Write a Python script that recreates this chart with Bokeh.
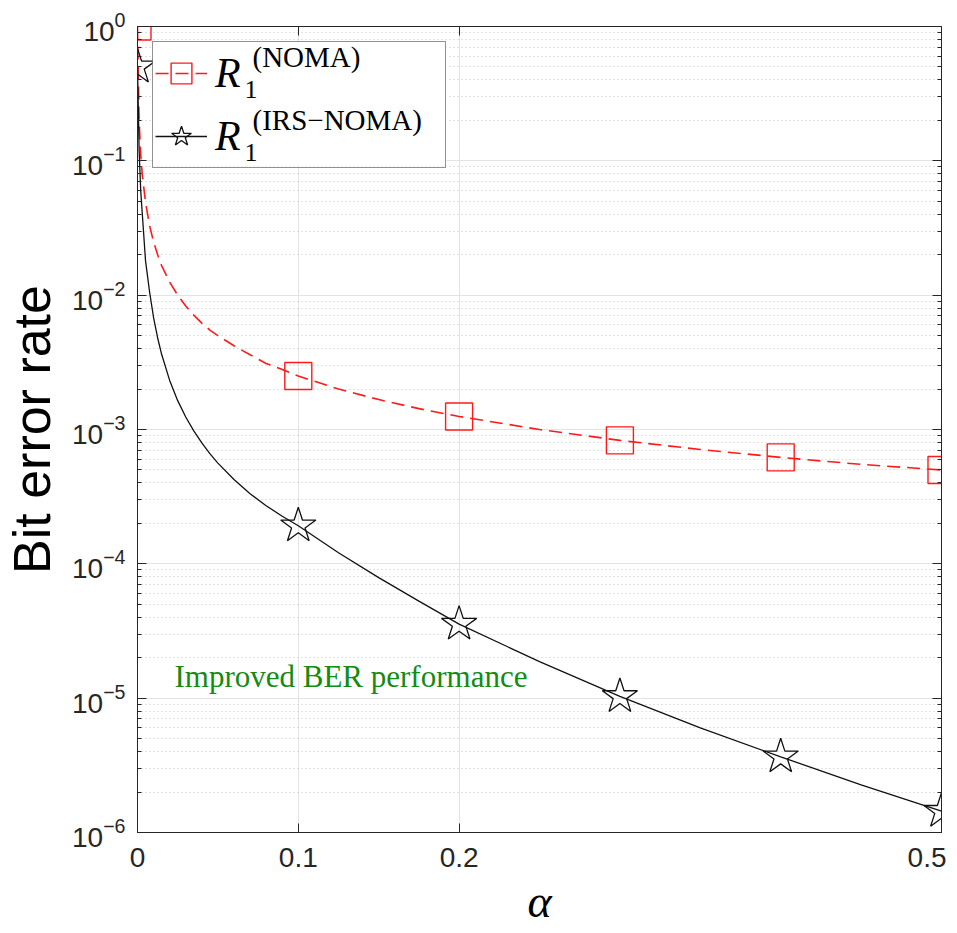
from bokeh.plotting import figure
from bokeh.models import (FixedTicker, LogAxis, LinearAxis, Legend, LegendItem, Label,
                          BoxAnnotation)
from bokeh.embed import file_html
from bokeh.resources import INLINE

# ---------------- data ----------------
alpha = [0, 0.001, 0.002, 0.003, 0.005, 0.0075, 0.01, 0.0125, 0.015, 0.02, 0.025,
         0.03, 0.035, 0.04, 0.045, 0.05, 0.06, 0.07, 0.08, 0.09, 0.1, 0.125, 0.15,
         0.175, 0.2, 0.25, 0.3, 0.35, 0.4, 0.45, 0.5]
ber_noma = [1.0, 0.2, 0.11, 0.078, 0.049, 0.033, 0.025, 0.02, 0.0166, 0.0125, 0.01,
            0.0083, 0.0071, 0.0062, 0.0055, 0.005, 0.0042, 0.0036, 0.0031, 0.0028,
            0.0025, 0.002, 0.00167, 0.00143, 0.00125, 0.001, 0.00083, 0.00071,
            0.00062, 0.00055, 0.0005]
ber_irs_noma = [0.5, 0.12, 0.06, 0.04, 0.018, 0.0106, 0.0068, 0.00482, 0.00363,
                0.00232, 0.00164, 0.00124, 0.000977, 0.000794, 0.000661, 0.000562,
                0.000424, 0.000333, 0.000271, 0.000226, 0.000192, 0.000121, 7.9e-05,
                5.28e-05, 3.56e-05, 1.87e-05, 1.03e-05, 6.0e-06, 3.66e-06, 2.26e-06,
                1.44e-06]
alpha_markers = [0, 0.1, 0.2, 0.3, 0.4, 0.5]
noma_markers = [ber_noma[alpha.index(a)] for a in alpha_markers]
irs_markers = [ber_irs_noma[alpha.index(a)] for a in alpha_markers]

x_ticks = [0, 0.1, 0.2, 0.5]
x_tick_labels = ["0", "0.1", "0.2", "0.5"]
y_ticks = [1e-6, 1e-5, 1e-4, 1e-3, 1e-2, 1e-1, 1.0]
y_minor = [k * d for d in y_ticks[:-1] for k in range(2, 10)]

x_label = "α"
y_label = "Bit error rate"
note_text = "Improved BER performance"
legend_main = "R"
legend_sub = "1"
legend_sups = ["(NOMA)", "(IRS−NOMA)"]

AX = "#262626"

p = figure(frame_width=804, frame_height=806, x_range=(0, 0.5), y_range=(1e-6, 1),
           y_axis_type="log", output_backend="svg", toolbar_location=None,
           min_border_left=100, min_border_right=5, min_border_top=26,
           min_border_bottom=85, background_fill_color="white",
           border_fill_color="white")
p.outline_line_color = AX
p.outline_line_width = 1

yticker = FixedTicker(ticks=y_ticks, minor_ticks=y_minor)
xticker = FixedTicker(ticks=x_ticks, minor_ticks=[])

# grids
p.xgrid.ticker = xticker
p.ygrid.ticker = yticker
p.xgrid.grid_line_color = "#e3e3e3"
p.ygrid.grid_line_color = "#e3e3e3"
p.ygrid.minor_grid_line_color = "#c4c4c4"
p.ygrid.minor_grid_line_dash = "1 3"
p.ygrid.minor_grid_line_width = 1

# left axis
yax = p.yaxis[0]
yax.ticker = yticker
yax.axis_label = y_label
yax.axis_label_text_font = "Liberation Sans"
yax.axis_label_text_font_size = "52px"
yax.axis_label_text_font_style = "normal"
yax.axis_label_text_color = "black"
yax.axis_label_standoff = 8
yax.major_label_text_font = "Liberation Sans"
yax.major_label_text_font_size = "28px"
yax.major_label_text_color = AX
yax.major_label_standoff = 12
yax.major_tick_in = 9
yax.major_tick_out = 0
yax.minor_tick_in = 4
yax.minor_tick_out = 0
yax.axis_line_color = AX
yax.major_tick_line_color = AX
yax.minor_tick_line_color = AX

# bottom axis
xax = p.xaxis[0]
xax.ticker = xticker
xax.major_label_overrides = {t: s for t, s in zip(x_ticks, x_tick_labels)}
xax.axis_label = x_label
xax.axis_label_text_font = "Liberation Serif"
xax.axis_label_text_font_size = "46px"
xax.axis_label_text_font_style = "italic"
xax.axis_label_text_color = "black"
xax.axis_label_standoff = 6
xax.major_label_text_font = "Liberation Sans"
xax.major_label_text_font_size = "28px"
xax.major_label_text_color = AX
xax.major_label_standoff = 15
xax.major_tick_in = 9
xax.major_tick_out = 0
xax.minor_tick_in = 0
xax.minor_tick_out = 0
xax.axis_line_color = AX
xax.major_tick_line_color = AX

# box axes (right / top) with inward ticks, labels not drawn
rax = LogAxis(ticker=yticker, major_label_text_font_size="2px",
              major_label_text_color=None, major_label_standoff=0,
              major_tick_in=9, major_tick_out=0, minor_tick_in=4, minor_tick_out=0,
              axis_line_color=AX, major_tick_line_color=AX, minor_tick_line_color=AX)
p.add_layout(rax, "right")
tax = LinearAxis(ticker=xticker, major_label_text_font_size="2px",
                 major_label_text_color=None, major_label_standoff=0,
                 major_tick_in=9, major_tick_out=0, minor_tick_in=0, minor_tick_out=0,
                 axis_line_color=AX, major_tick_line_color=AX)
p.add_layout(tax, "above")

# series
RED = "#ff1a1a"
l1 = p.line(alpha, ber_noma, line_color=RED, line_width=1.6, line_dash="13 7")
m1 = p.scatter(alpha_markers, noma_markers, marker="square", size=27,
               line_color=RED, fill_color=None, line_width=1.4)
l2 = p.line(alpha, ber_irs_noma, line_color="#111111", line_width=1.3)
m2 = p.scatter(alpha_markers, irs_markers, marker="star", size=37,
               line_color="#111111", fill_color=None, line_width=1.3)

# white backing of the legend box (drawn above grid and curves, below legend text)
p.add_layout(BoxAnnotation(left=15, right=309, top=791, bottom=666,
                           left_units="screen", right_units="screen",
                           top_units="screen", bottom_units="screen",
                           fill_color="white", fill_alpha=1.0, line_color=None,
                           level="guide"))

legend = Legend(items=[LegendItem(label=legend_main, renderers=[l1, m1]),
                       LegendItem(label=legend_main, renderers=[l2, m2])],
                location="top_left", margin=15, padding=2, spacing=5,
                glyph_width=52, glyph_height=58, label_standoff=8,
                label_width=228, label_height=58,
                label_text_font="Liberation Serif", label_text_font_style="italic",
                label_text_font_size="42px", label_text_color="black",
                border_line_color=AX, border_line_width=1,
                background_fill_alpha=0)
p.add_layout(legend)

# sub/superscripts of the legend labels (frame-relative screen units)
for i, sup in enumerate(legend_sups):
    p.add_layout(Label(x=107, y=743 - 63 * i, x_units="screen", y_units="screen",
                       text=legend_sub, text_font="Liberation Serif",
                       text_font_size="26px", text_color="black",
                       text_baseline="alphabetic"))
    p.add_layout(Label(x=115, y=776 - 63 * i, x_units="screen", y_units="screen",
                       text=sup, text_font="Liberation Serif",
                       text_font_size="29px", text_color="black",
                       text_baseline="alphabetic"))

p.add_layout(Label(x=0.023, y=1.46e-5, text=note_text, text_font="Liberation Serif",
                   text_font_size="31px", text_color="#128c12",
                   text_baseline="alphabetic"))

open("out.html", "w").write(file_html(p, INLINE))
